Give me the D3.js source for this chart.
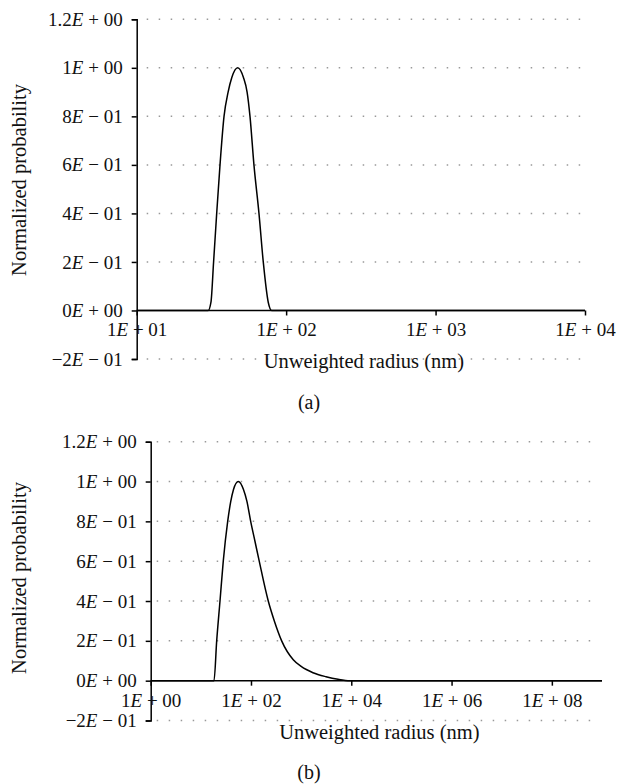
<!DOCTYPE html>
<html lang="en">
<head>
  <meta charset="UTF-8">
  <title>Normalized probability vs unweighted radius</title>
  <style>
    body { margin: 0; background: #fff; }
    svg { display: block; background: #fff; }
    text { font-family: "Liberation Serif", "DejaVu Serif", serif; fill: #111; }
    .grid line { stroke: #999; stroke-width: 1.5px; stroke-dasharray: 1.5 10.5; }
    .axis path, .axis line { stroke: #000; stroke-width: 1.5px; }
  </style>
</head>
<body>
  <script src="https://cdnjs.cloudflare.com/ajax/libs/d3/7.8.5/d3.min.js"></script>
  <svg></svg>
  <script>
    // panel (a)
    var radiusA = [10, 20, 30.1, 31.4, 32.7, 34.3, 36.1, 38.4, 40.9, 43.3, 47.4, 51.8, 54.8, 57.3, 60.9, 65.8, 70.3, 75.9, 80.0, 200, 10000];
    var probA   = [0, 0, 0, 0.034, 0.2, 0.4, 0.6, 0.8, 0.9, 0.96, 1.0, 0.96, 0.9, 0.8, 0.6, 0.4, 0.2, 0.034, 0, 0, 0];
    var xTicksA = [1e1, 1e2, 1e3, 1e4];
    var xLabelsA = ['1E + 01', '1E + 02', '1E + 03', '1E + 04'];

    // panel (b)
    var radiusB = [1, 10, 18.3, 20.7, 24.1, 28.0, 34.3, 39.5, 44.8, 55.8, 70.8, 83, 98.6, 120, 146, 221, 292, 409, 697, 1016, 1723, 3130, 5430, 9420, 1e5, 1e9];
    var probB   = [0, 0, 0, 0.2, 0.4, 0.6, 0.8, 0.9, 0.96, 1.0, 0.96, 0.9, 0.8, 0.7, 0.6, 0.4, 0.3, 0.2, 0.105, 0.07, 0.04, 0.02, 0.007, 0, 0, 0];
    var xTicksB = [1e0, 1e2, 1e4, 1e6, 1e8];
    var xLabelsB = ['1E + 00', '1E + 02', '1E + 04', '1E + 06', '1E + 08'];

    // shared y axis
    var yTicks = [-0.2, 0, 0.2, 0.4, 0.6, 0.8, 1.0, 1.2];
    var yLabels = ['\u22122E \u2212 01', '0E + 00', '2E \u2212 01', '4E \u2212 01', '6E \u2212 01', '8E \u2212 01', '1E + 00', '1.2E + 00'];

    var width = 617, height = 784;
    var svg = d3.select('svg').attr('width', width).attr('height', height);

    // split "1.2E + 00" into mantissa / italic E / exponent
    function sciText(sel, labelOf) {
      sel.each(function(d, i) {
        var s = labelOf(d, i);
        var parts = s.split('E');
        var t = d3.select(this).text(null);
        t.append('tspan').text(parts[0]);
        t.append('tspan').attr('font-style', 'italic').text('E');
        t.append('tspan').text(parts[1]);
      });
    }

    function panel(p) {
      var x = d3.scaleLog().domain(p.xDomain).range([p.left, p.right]);
      var y = d3.scaleLinear().domain([-0.2, 1.2]).range([p.bottom, p.top]);
      var g = svg.append('g');

      // dotted grid
      g.append('g').attr('class', 'grid')
        .selectAll('line')
        .data(yTicks.filter(function(d) { return d !== 0; }))
        .enter().append('line')
          .attr('x1', p.left + p.gridStart)
          .attr('x2', p.right - 2)
          .attr('y1', function(d) { return y(d); })
          .attr('y2', function(d) { return y(d); });

      // y axis
      var yAxis = g.append('g').attr('class', 'axis')
        .attr('transform', 'translate(' + p.left + ',0)')
        .call(d3.axisLeft(y).tickValues(yTicks).tickSize(5).tickPadding(9));
      yAxis.attr('font-family', null);
      yAxis.selectAll('text').attr('font-size', 19)
        .call(sciText, function(d) { return yLabels[yTicks.indexOf(d)]; });

      // x axis at y = 0
      var xAxis = g.append('g').attr('class', 'axis')
        .attr('transform', 'translate(0,' + y(0) + ')')
        .call(d3.axisBottom(x).tickValues(p.xTicks).tickSize(5).tickSizeOuter(0).tickPadding(7.5));
      xAxis.attr('font-family', null);
      xAxis.selectAll('text').attr('font-size', 19)
        .call(sciText, function(d, i) { return p.xLabels[i]; });
      xAxis.select('.domain').attr('d', 'M' + p.left + ',0H' + p.right);

      // axis titles
      g.append('text')
        .attr('x', (p.left + p.right) / 2 + 3)
        .attr('y', p.titleY)
        .attr('text-anchor', 'middle')
        .attr('font-size', 20.5)
        .text('Unweighted radius (nm)');

      g.append('text')
        .attr('transform', 'translate(26,' + p.yTitleMid + ') rotate(-90)')
        .attr('text-anchor', 'middle')
        .attr('font-size', 20.5)
        .text('Normalized probability');

      // curve
      var line = d3.line()
        .x(function(d) { return x(d[0]); })
        .y(function(d) { return y(d[1]); })
        .curve(d3.curveMonotoneX);
      g.append('path')
        .datum(d3.zip(p.radius, p.prob))
        .attr('fill', 'none')
        .attr('stroke', '#000')
        .attr('stroke-width', 1.5)
        .attr('d', line);

      // caption
      g.append('text')
        .attr('x', 309)
        .attr('y', p.captionY)
        .attr('text-anchor', 'middle')
        .attr('font-size', 20)
        .text(p.caption);
    }

    panel({
      xDomain: [1e1, 1e4], xTicks: xTicksA, xLabels: xLabelsA,
      radius: radiusA, prob: probA,
      left: 136.7, right: 585, top: 19.3, bottom: 359,
      gridStart: 10, titleY: 367.5, yTitleMid: 180, captionY: 409, caption: '(a)'
    });

    panel({
      xDomain: [1e0, 1e9], xTicks: xTicksB, xLabels: xLabelsB,
      radius: radiusB, prob: probB,
      left: 150.7, right: 602, top: 441.7, bottom: 720.5,
      gridStart: 6, titleY: 738.5, yTitleMid: 578, captionY: 779, caption: '(b)'
    });
  </script>
</body>
</html>
